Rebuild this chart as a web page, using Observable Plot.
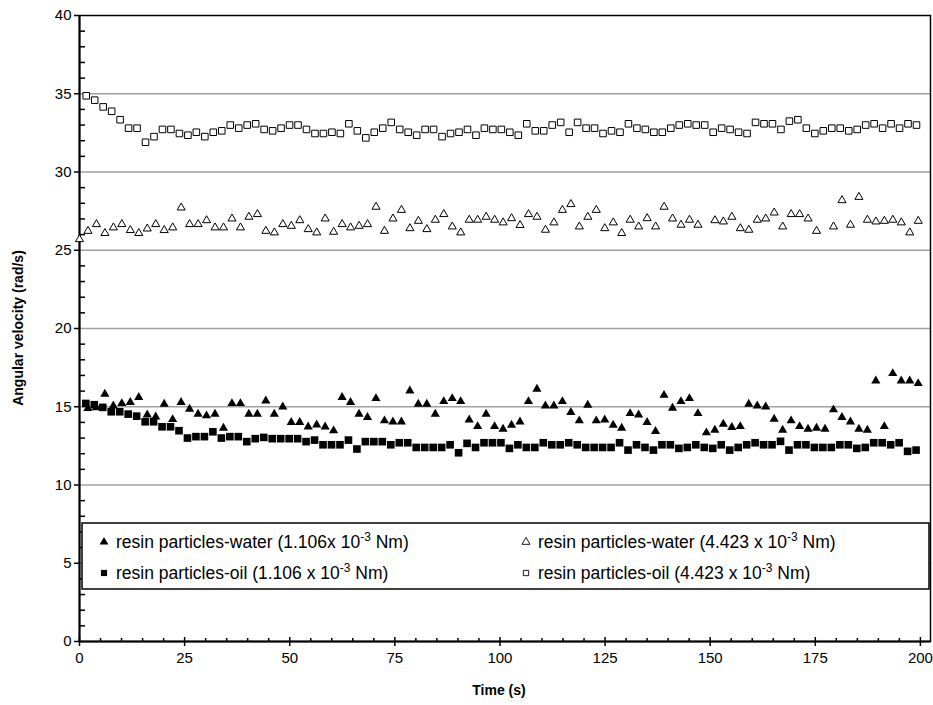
<!DOCTYPE html>
<html>
<head>
<meta charset="utf-8">
<script src="https://cdn.jsdelivr.net/npm/d3@7"></script>
<script src="https://cdn.jsdelivr.net/npm/@observablehq/plot@0.6"></script>
<style>
  html, body { margin: 0; padding: 0; background: #fff; }
  #chart svg { display: block; }
</style>
</head>
<body>
<div id="chart"></div>
<script>
// ---- data (angular velocity, rad/s) ----
// samples are logged about every 2 s; first sample time per series
const sampleStep = 2.015;
const waterLowStart = 2.0;   // resin particles-water (1.106x10^-3 Nm)
const oilLowStart = 1.5;     // resin particles-oil (1.106x10^-3 Nm)
const waterHighStart = 0.0;  // resin particles-water (4.423x10^-3 Nm)
const oilHighStart = 1.6;    // resin particles-oil (4.423x10^-3 Nm)

const waterLow = [
  14.9, 14.95, 15.81, 15.06, 15.21, 15.28, 15.60, 14.49, 14.36, 15.17,
  14.19, 15.28, 14.85, 14.53, 14.43, 14.53, 13.64, 15.21, 15.21, 14.53,
  14.53, 15.38, 14.53, 15.0, 14.0, 14.0, 13.72, 13.85, 13.72, 13.47,
  15.60, 15.28, 14.53, 14.32,
  15.53, 14.11, 14.04, 14.04, 16.02, 15.17, 15.17, 14.53, 15.34, 15.53,
  15.34, 14.17, 13.74, 14.53, 13.74, 13.57, 13.83, 14.04, 15.34, 16.13,
  15.06, 15.06, 15.34, 14.64, 14.11, 15.11, 14.11, 14.17, 13.83, 13.64,
  14.57, 14.49, 14.0, 13.43,
  15.74, 14.91, 15.34, 15.53, 14.57, 13.34, 13.51, 13.89, 13.68, 13.74,
  15.17, 15.06, 15.0, 14.21, 13.51, 14.11, 13.74, 13.57, 13.64, 13.57,
  14.81, 14.32, 14.04, 13.57, 13.51, 16.66, 13.74, 17.13, 16.66, 16.66,
  16.49
];
const oilLow = [
  15.21, 15.13, 14.96, 14.68, 14.68, 14.53, 14.40, 14.04, 14.04, 13.72,
  13.72, 13.47, 13.0, 13.09, 13.09, 13.40, 13.0, 13.09, 13.09, 12.77,
  12.96, 13.04, 12.96, 12.96, 12.96, 12.96, 12.77, 12.87, 12.57, 12.57,
  12.57, 12.87, 12.30, 12.77,
  12.77, 12.77, 12.57, 12.70, 12.70, 12.40, 12.40, 12.40, 12.40, 12.57,
  12.06, 12.66, 12.40, 12.70, 12.70, 12.70, 12.34, 12.57, 12.40, 12.40,
  12.70, 12.57, 12.57, 12.70, 12.57, 12.40, 12.40, 12.40, 12.40, 12.70,
  12.23, 12.57, 12.40, 12.23,
  12.57, 12.57, 12.34, 12.40, 12.57, 12.40, 12.34, 12.57, 12.23, 12.40,
  12.57, 12.70, 12.57, 12.57, 12.79, 12.23, 12.57, 12.57, 12.40, 12.40,
  12.40, 12.57, 12.57, 12.34, 12.40, 12.70, 12.70, 12.57, 12.70, 12.15,
  12.23
];
const waterHigh = [
  25.70, 26.23, 26.66, 26.09, 26.45, 26.66, 26.28, 26.09, 26.38, 26.66,
  26.28, 26.45, 27.72, 26.66, 26.66, 26.91, 26.45, 26.45, 27.02, 26.45,
  27.13, 27.30, 26.23, 26.13, 26.66, 26.55, 26.91, 26.34, 26.13, 27.02,
  26.17, 26.66, 26.45, 26.55, 26.66,
  27.77, 26.23, 27.02, 27.57, 26.40, 26.87, 26.34, 26.94, 27.30, 26.51,
  26.13, 26.94, 26.94, 27.13, 26.94, 26.77, 27.04, 26.60, 27.30, 27.13,
  26.30, 26.77, 27.57, 27.94, 26.51, 27.13, 27.57, 26.40, 26.77, 26.09,
  26.94, 26.51, 27.04, 26.51,
  27.77, 27.02, 26.62, 26.94, 26.62, null, 26.91, 26.83, 27.13, 26.40,
  26.30, 26.94, 27.02, 27.40, 26.51, 27.30, 27.30, 27.02, 26.23, null,
  26.51, 28.19, 26.62, 28.40, 26.94, 26.83, 26.87, 26.94, 26.77, 26.13,
  26.87
];
const oilHigh = [
  34.87, 34.59, 34.16, 33.88, 33.34, 32.80, 32.80, 31.90, 32.26, 32.72,
  32.72, 32.46, 32.35, 32.54, 32.26, 32.54, 32.63, 33.0, 32.80, 33.0,
  33.08, 32.72, 32.63, 32.80, 33.0, 33.0, 32.72, 32.46, 32.46, 32.54,
  32.46, 33.08, 32.63, 32.18,
  32.54, 32.80, 33.17, 32.72, 32.54, 32.35, 32.72, 32.72, 32.26, 32.46,
  32.54, 32.72, 32.35, 32.80, 32.72, 32.72, 32.54, 32.35, 33.08, 32.63,
  32.63, 33.0, 33.17, 32.54, 33.17, 32.80, 32.80, 32.46, 32.63, 32.54,
  33.08, 32.80, 32.72, 32.54,
  32.54, 32.80, 33.0, 33.08, 33.0, 33.0, 32.54, 32.80, 32.72, 32.54,
  32.46, 33.17, 33.08, 33.08, 32.72, 33.25, 33.34, 32.80, 32.46, 32.63,
  32.80, 32.80, 32.63, 32.72, 33.0, 33.08, 32.80, 33.08, 32.80, 33.08,
  33.0
];

const xTicks = [0, 25, 50, 75, 100, 125, 150, 175, 200];
const yTicks = [0, 5, 10, 15, 20, 25, 30, 35, 40];
const gridValues = [5, 10, 15, 20, 25, 30, 35];
const xMinorTicks = [5,10,15,20,30,35,40,45,55,60,65,70,80,85,90,95,105,110,115,120,130,135,140,145,155,160,165,170,180,185,190,195];
const yMinorTicks = [1,2,3,4,6,7,8,9,11,12,13,14,16,17,18,19,21,22,23,24,26,27,28,29,31,32,33,34,36,37,38,39];

const xTitle = "Time (s)";
const yTitle = "Angular velocity (rad/s)";
const legendItems = [
  {pre: "resin particles-water (1.106x 10", sup: "-3", post: " Nm)", symbol: "triangle", filled: true, col: 0, row: 0},
  {pre: "resin particles-oil (1.106 x 10", sup: "-3", post: " Nm)", symbol: "square", filled: true, col: 0, row: 1},
  {pre: "resin particles-water (4.423 x 10", sup: "-3", post: " Nm)", symbol: "triangle", filled: false, col: 1, row: 0},
  {pre: "resin particles-oil (4.423 x 10", sup: "-3", post: " Nm)", symbol: "square", filled: false, col: 1, row: 1}
];

function toRows(values, t0) {
  return values.map((v, i) => ({t: t0 + i * sampleStep, v})).filter(d => d.v != null);
}
const waterLowRows = toRows(waterLow, waterLowStart);
const oilLowRows = toRows(oilLow, oilLowStart);
const waterHighRows = toRows(waterHigh, waterHighStart);
const oilHighRows = toRows(oilHigh, oilHighStart);

const plotWidth = 933 - 79 - 3;
const plotHeight = 705 - 15 - 64;

const svg = Plot.plot({
  width: 933,
  height: 705,
  marginLeft: 79,
  marginRight: 3,
  marginTop: 15,
  marginBottom: 64,
  style: {fontFamily: "'Liberation Sans', Arial, sans-serif", fontSize: "15px", color: "#000", background: "#fff", overflow: "visible"},
  x: {domain: [0, 202.4]},
  y: {domain: [0, 40]},
  marks: [
    Plot.ruleY(gridValues, {stroke: "#a0a0a0", strokeWidth: 1.5}),
    Plot.frame({stroke: "#000", strokeWidth: 1.5}),
    Plot.axisY(yTicks, {anchor: "left", tickSize: 5, tickPadding: 3, strokeWidth: 1.5, label: null}),
    Plot.axisX(xTicks, {anchor: "bottom", tickSize: 5, tickPadding: 6, strokeWidth: 1.5, label: null}),
    // inward ticks: right-anchored / top-anchored axes shifted onto the left / bottom axis lines
    Plot.axisY(yMinorTicks, {anchor: "right", dx: -plotWidth, tickSize: 5, tickFormat: () => "", strokeWidth: 1.5, label: null}),
    Plot.axisX(xTicks, {anchor: "top", dy: plotHeight, tickSize: 5, tickFormat: () => "", strokeWidth: 1.5, label: null}),
    Plot.axisX(xMinorTicks, {anchor: "top", dy: plotHeight, tickSize: 4, tickFormat: () => "", strokeWidth: 1.5, label: null}),
    Plot.ruleX([0], {stroke: "#000", strokeWidth: 2}),
    Plot.ruleY([0], {stroke: "#000", strokeWidth: 2}),
    Plot.dot(waterLowRows, {x: "t", y: "v", symbol: "triangle", r: 3.4, fill: "#000", stroke: "none"}),
    Plot.dot(oilLowRows, {x: "t", y: "v", symbol: "square", r: 4.3, fill: "#000", stroke: "none"}),
    Plot.dot(waterHighRows, {x: "t", y: "v", symbol: "triangle", r: 3.0, fill: "#fff", stroke: "#000", strokeWidth: 1}),
    Plot.dot(oilHighRows, {x: "t", y: "v", symbol: "square", r: 3.7, fill: "#fff", stroke: "#000", strokeWidth: 1})
  ]
});

const s = d3.select(svg);
const font = "'Liberation Sans', Arial, sans-serif";

// axis titles
s.append("text")
  .attr("x", 499).attr("y", 695)
  .attr("text-anchor", "middle")
  .attr("font-family", font).attr("font-size", 14).attr("font-weight", "bold")
  .attr("fill", "#000")
  .text(xTitle);
s.append("text")
  .attr("transform", "translate(23,328) rotate(-90)")
  .attr("text-anchor", "middle")
  .attr("font-family", font).attr("font-size", 14).attr("font-weight", "bold")
  .attr("fill", "#000")
  .text(yTitle);

// legend box
const lg = s.append("g").attr("text-anchor", "start");
lg.append("rect")
  .attr("x", 82).attr("y", 523).attr("width", 847).attr("height", 66)
  .attr("fill", "#fff").attr("stroke", "#000").attr("stroke-width", 1.5);
const colX = [104, 526];
const rowY = [542, 573];
for (const item of legendItems) {
  const cx = colX[item.col], cy = rowY[item.row];
  const size = item.symbol === "triangle" ? 34 : 38;
  const sym = d3.symbol(item.symbol === "triangle" ? d3.symbolTriangle : d3.symbolSquare, item.filled ? size : 28)();
  lg.append("path")
    .attr("d", sym)
    .attr("transform", `translate(${cx},${cy})`)
    .attr("fill", item.filled ? "#000" : "#fff")
    .attr("stroke", item.filled ? "none" : "#000")
    .attr("stroke-width", 0.9);
  const t = lg.append("text")
    .attr("x", cx + 12).attr("y", cy + 6)
    .attr("text-anchor", "start")
    .attr("font-family", font).attr("font-size", 17.5)
    .attr("fill", "#000");
  t.append("tspan").text(item.pre);
  t.append("tspan").attr("dy", -7).attr("font-size", 12).text(item.sup);
  t.append("tspan").attr("dy", 7).text(item.post);
}

document.getElementById("chart").appendChild(svg);
</script>
</body>
</html>
